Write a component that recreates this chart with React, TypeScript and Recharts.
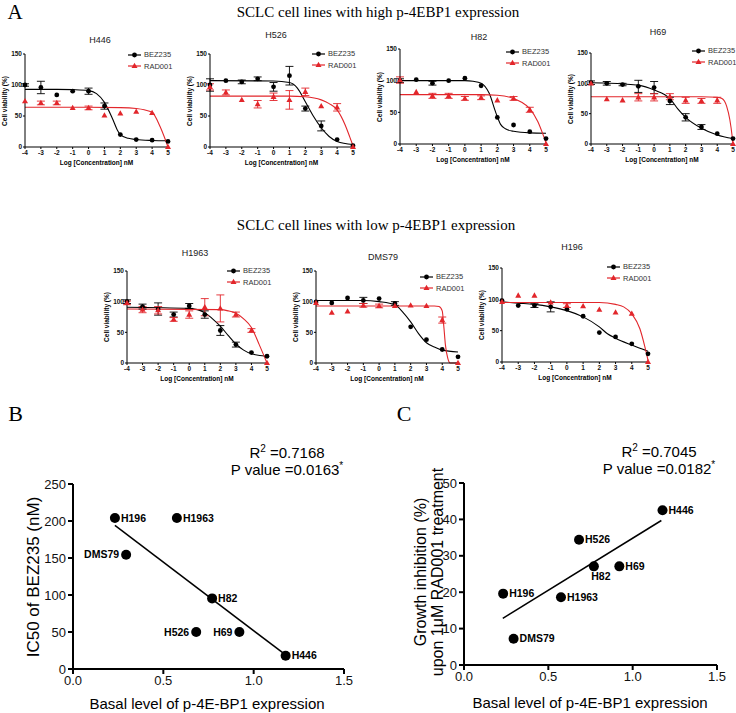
import React from "react";
import { ComposedChart, Line, Scatter, XAxis, YAxis, ErrorBar } from "recharts";

const SANS = "'Liberation Sans', Arial, Helvetica, sans-serif";
const SERIF = "'Liberation Serif', 'Times New Roman', serif";
const RED = "#e2262b";

type Pair = [number, number];

// shared x positions of the dose-response panels (log nM)
const concTicks = [-4, -3, -2, -1, 0, 1, 2, 3, 4, 5];
const viabilityTicks = [0, 50, 100, 150];

// H446
const h446Bez = [100, 96, 84, 90, 90, 66, 20, 12, 11, 9];
const h446BezErr = [2, 10, 0, 0, 5, 5, 0, 0, 0, 0];
const h446Rad = [74, 71, 71, 63, 63, 51, 54, 57, 55, 0];
const h446RadErr = [0, 3, 3, 0, 3, 0, 0, 0, 0, 0];
const h446BezFit: Pair[] = [[-4, 93], [-2, 93], [-1, 92.5], [0, 91], [0.5, 86], [1, 72], [1.5, 46], [1.8, 28], [2, 20], [2.5, 14], [3, 12], [4, 10.5], [5, 10]];
const h446RadFit: Pair[] = [[-4, 64], [0, 64], [2, 63.5], [3, 62], [3.5, 60], [4, 56], [4.5, 33], [4.8, 14], [5, 0]];

// H526
const h526Bez = [100, 107, 105, 110, 97, 115, 62, 34, 12, 2];
const h526BezErr = [10, 0, 3, 3, 7, 15, 4, 8, 0, 0];
const h526Rad = [97, 88, 76, 69, 81, 76, 89, 66, 64, 0];
const h526RadErr = [5, 4, 0, 6, 6, 15, 6, 0, 6, 0];
const h526BezFit: Pair[] = [[-4, 107], [0, 106.5], [1, 104], [1.5, 95], [2, 73], [2.5, 50], [3, 31], [3.5, 17], [4, 9], [5, 4]];
const h526RadFit: Pair[] = [[-4, 82], [1, 82], [2, 81], [3, 76], [3.5, 70], [4, 60], [4.5, 36], [4.8, 16], [5, 2]];

// H82
const h82Bez = [100, 101.5, 96, 100, 104, 92, 42, 30, 19.5, 8.5];
const h82BezErr = [3, 0, 3, 0, 0, 0, 0, 0, 0, 0];
const h82Rad = [101, 82, 76, 76, 72, 73, 69, 72, 54, 0];
const h82RadErr = [5, 0, 4, 4, 3, 3, 0, 3, 4, 0];
const h82BezFit: Pair[] = [[-4, 100], [0, 100], [0.5, 99], [1, 96], [1.5, 80], [1.9, 50], [2.2, 31], [2.5, 24], [3, 20], [4, 17.5], [5, 17]];
const h82RadFit: Pair[] = [[-4, 78], [1, 78], [2, 77], [3, 72], [3.5, 66], [4, 56], [4.5, 35], [4.8, 16], [5, 2]];

// H69
const h69Bez = [101, 100, 98, 95, 93, 71, 44, 28, 17, 9];
const h69BezErr = [3, 3, 2, 10, 10, 6, 6, 4, 0, 0];
const h69Rad = [100, 74, 72, 77, 77, 78, 72, 71, 72, 0];
const h69RadErr = [0, 0, 0, 6, 6, 5, 5, 4, 5, 0];
const h69BezFit: Pair[] = [[-4, 101], [-3, 100.5], [-2, 99], [-1, 97], [0, 89], [1, 75], [1.5, 58], [2, 44], [3, 26], [4, 15], [5, 9]];
const h69RadFit: Pair[] = [[-4, 78], [3, 78], [4, 77], [4.3, 75], [4.6, 62], [4.8, 40], [4.95, 12], [5, 0]];

// H1963
const h1963Bez = [100, 92, 88, 79, 93, 79, 53, 30, 17, 11];
const h1963BezErr = [3, 4, 10, 4, 4, 6, 8, 4, 0, 0];
const h1963Rad = [98, 87, 86, 71, 79, 91, 89, 79, 53, 0];
const h1963RadErr = [3, 5, 6, 3, 6, 14, 22, 4, 3, 0];
const h1963BezFit: Pair[] = [[-4, 91], [0, 89], [1, 82], [1.5, 72], [2, 60], [2.5, 45], [3, 31], [3.5, 21], [4, 15], [5, 11]];
const h1963RadFit: Pair[] = [[-4, 88], [2, 87], [2.5, 85], [3, 81], [3.5, 72], [4, 58], [4.5, 30], [5, 0]];

// DMS79
const dms79Bez = [99.5, 98, 106, 102, 105, 97, 59, 38, 22, 10];
const dms79BezErr = [0, 0, 0, 5, 0, 3, 0, 0, 0, 0];
const dms79Rad = [98, 82, 84, 94, 93, 93, 94, 93, 70, 0];
const dms79RadErr = [0, 0, 0, 3, 3, 0, 0, 0, 5, 0];
const dms79BezFit: Pair[] = [[-4, 102], [-1, 102], [0, 100], [1, 95], [1.5, 83], [2, 67], [2.5, 48], [3, 33], [3.5, 26], [4, 21], [5, 18]];
const dms79RadFit: Pair[] = [[-4, 93], [3.5, 93], [3.8, 92], [4, 85], [4.1, 60], [4.2, 30], [4.35, 8], [4.5, 0], [5, 0]];

// H196
const h196Bez = [98, 90, 90, 88, 84, 73, 47, 40, 29, 13];
const h196BezErr = [0, 0, 3, 8, 0, 0, 0, 0, 0, 0];
const h196Rad = [96, 106, 106, 95, 90, 89, 83.5, 79, 77, 0];
const h196RadErr = [0, 0, 0, 0, 3, 0, 0, 0, 0, 0];
const h196BezFit: Pair[] = [[-4, 96], [-3, 94], [-2, 92], [-1, 88], [0, 82], [1, 72], [2, 56], [2.5, 45], [3, 38], [4, 27], [5, 17]];
const h196RadFit: Pair[] = [[-4, 95], [2, 95], [3, 92], [3.5, 88], [4, 77], [4.5, 53], [4.8, 25], [5, 3]];

// panels B and C
const cellLines = ["H446", "H526", "H82", "H69", "H1963", "DMS79", "H196"];
const basalLevel = [1.177, 0.682, 0.77, 0.921, 0.575, 0.294, 0.232];
const ic50Bez = [18, 50, 95.4, 50, 204, 154.5, 204];
const growthInhibition = [42.5, 34.4, 27.1, 27.1, 18.6, 7.2, 19.6];
const ic50Fit: Pair[] = [[0.232, 194], [1.177, 19]];
const growthFit: Pair[] = [[0.23, 12.8], [1.17, 39.7]];
const basalTicks = [0, 0.5, 1, 1.5];
const ic50Ticks = [0, 50, 100, 150, 200, 250];
const growthTicks = [0, 10, 20, 30, 40, 50];

const toRows = (vals: number[], errs: number[]) =>
  concTicks.map((x, i) => ({ x, y: vals[i], err: errs[i] }));
const toCurve = (pts: Pair[]) => pts.map(([x, y]) => ({ x, y }));

const dotShape = (fill: string) => (props: any) => (
  <circle cx={props.cx} cy={props.cy} r={2.4} fill={fill} />
);
const triShape = (fill: string) => (props: any) => {
  const { cx, cy } = props;
  return <path d={`M${cx},${cy - 3.2}L${cx + 3},${cy + 2.1}L${cx - 3},${cy + 2.1}Z`} fill={fill} />;
};

const abs = (left: number, top: number): React.CSSProperties => ({
  position: "absolute",
  left,
  top,
  transform: "translate(-50%, -50%)",
  whiteSpace: "nowrap",
  lineHeight: 1,
});

function LegendRow({ color, tri, label }: { color: string; tri?: boolean; label: string }) {
  return (
    <div style={{ display: "flex", alignItems: "center", height: 11.5 }}>
      <svg width={14} height={8}>
        <line x1={0} y1={4} x2={13} y2={4} stroke={color} strokeWidth={1.2} />
        {tri ? (
          <path d="M6.5,0.8L9.5,6.1L3.5,6.1Z" fill={color} />
        ) : (
          <circle cx={6.5} cy={4} r={2.4} fill={color} />
        )}
      </svg>
      <span style={{ marginLeft: 2 }}>{label}</span>
    </div>
  );
}

type DoseProps = {
  name: string;
  left: number;
  top: number;
  pw: number;
  ph: number;
  titleX: number;
  titleY: number;
  legX: number;
  legY: number;
  bez: number[];
  bezErr: number[];
  rad: number[];
  radErr: number[];
  bezFit: Pair[];
  radFit: Pair[];
};

function DosePanel(p: DoseProps) {
  const yw = 20, mt = 4, mr = 5, xh = 14;
  const tick = { fontSize: 6.5, fontWeight: 700, fill: "#111", fontFamily: SANS };
  return (
    <>
      <div style={{ ...abs(p.titleX, p.titleY), fontSize: 9, fontFamily: SANS, color: "#222" }}>{p.name}</div>
      <div style={{ position: "absolute", left: p.left - yw, top: p.top - mt }}>
        <ComposedChart
          width={yw + p.pw + mr}
          height={mt + p.ph + xh}
          margin={{ top: mt, right: mr, bottom: 0, left: 0 }}
        >
          <XAxis
            type="number"
            dataKey="x"
            domain={[-4, 5]}
            ticks={concTicks}
            interval={0}
            height={xh}
            tickSize={2}
            tickMargin={1}
            tick={tick}
            stroke="#000"
          />
          <YAxis
            type="number"
            dataKey="y"
            domain={[0, 150]}
            ticks={viabilityTicks}
            interval={0}
            width={yw}
            tickSize={2}
            tickMargin={1}
            tick={tick}
            stroke="#000"
          />
          <Line data={toCurve(p.bezFit)} dataKey="y" type="monotone" stroke="#000" strokeWidth={1.1} dot={false} isAnimationActive={false} />
          <Line data={toCurve(p.radFit)} dataKey="y" type="monotone" stroke={RED} strokeWidth={1.1} dot={false} isAnimationActive={false} />
          <Scatter data={toRows(p.bez, p.bezErr)} dataKey="y" shape={dotShape("#000")} isAnimationActive={false}>
            <ErrorBar dataKey="err" direction="y" width={4} stroke="#000" strokeWidth={0.9} />
          </Scatter>
          <Scatter data={toRows(p.rad, p.radErr)} dataKey="y" shape={triShape(RED)} isAnimationActive={false}>
            <ErrorBar dataKey="err" direction="y" width={4} stroke={RED} strokeWidth={0.9} />
          </Scatter>
        </ComposedChart>
      </div>
      <div
        style={{
          ...abs(p.left - 20, p.top + p.ph / 2),
          transform: "translate(-50%, -50%) rotate(-90deg)",
          fontSize: 6.5,
          fontWeight: 700,
          fontFamily: SANS,
        }}
      >
        Cell viability (%)
      </div>
      <div style={{ ...abs(p.left + p.pw / 2, p.top + p.ph + 16), fontSize: 6.5, fontWeight: 700, fontFamily: SANS }}>
        Log [Concentration] nM
      </div>
      <div style={{ position: "absolute", left: p.legX, top: p.legY, fontSize: 7.5, fontFamily: SANS, color: "#333" }}>
        <LegendRow color="#000" label="BEZ235" />
        <LegendRow color={RED} tri label="RAD001" />
      </div>
    </>
  );
}

type CorrProps = {
  left: number;
  top: number;
  pw: number;
  ph: number;
  yw: number;
  yMax: number;
  yTicks: number[];
  values: number[];
  fit: Pair[];
  leftSide: string[];
  below: string[];
};

function CorrPanel(p: CorrProps) {
  const mt = 10, mr = 12, xh = 30;
  const points = cellLines.map((name, i) => ({ x: basalLevel[i], y: p.values[i], name }));
  const tick = { fontSize: 13, fill: "#111", fontFamily: SANS };
  const shape = (props: any) => {
    const { cx, cy, payload } = props;
    const name = payload.name;
    let tx = cx + 6;
    let ty = cy;
    let anchor: "start" | "end" | "middle" = "start";
    if (p.leftSide.includes(name)) {
      tx = cx - 7;
      anchor = "end";
    }
    if (p.below.includes(name)) {
      tx = cx + 7;
      ty = cy + 10;
      anchor = "middle";
    }
    return (
      <g>
        <circle cx={cx} cy={cy} r={5} fill="#000" />
        <text x={tx} y={ty} dy="0.35em" textAnchor={anchor} fontSize={10.5} fontWeight={700} fontFamily={SANS} fill="#000">
          {name}
        </text>
      </g>
    );
  };
  return (
    <div style={{ position: "absolute", left: p.left - p.yw, top: p.top - mt }}>
      <ComposedChart width={p.yw + p.pw + mr} height={mt + p.ph + xh} margin={{ top: mt, right: mr, bottom: 0, left: 0 }}>
        <XAxis
          type="number"
          dataKey="x"
          domain={[0, 1.5]}
          ticks={basalTicks}
          interval={0}
          height={xh}
          tickSize={5}
          tickFormatter={(v: number) => v.toFixed(1)}
          tick={tick}
          axisLine={{ stroke: "#000", strokeWidth: 2 }}
          tickLine={{ stroke: "#000", strokeWidth: 2 }}
        />
        <YAxis
          type="number"
          dataKey="y"
          domain={[0, p.yMax]}
          ticks={p.yTicks}
          interval={0}
          width={p.yw}
          tickSize={5}
          tick={tick}
          axisLine={{ stroke: "#000", strokeWidth: 2 }}
          tickLine={{ stroke: "#000", strokeWidth: 2 }}
        />
        <Line data={toCurve(p.fit)} dataKey="y" type="linear" stroke="#000" strokeWidth={1.5} dot={false} isAnimationActive={false} />
        <Scatter data={points} dataKey="y" shape={shape} isAnimationActive={false} />
      </ComposedChart>
    </div>
  );
}

function Stats({ x, y, r2, pval }: { x: number; y: number; r2: string; pval: string }) {
  return (
    <div style={{ position: "absolute", left: x, top: y, transform: "translateX(-50%)", textAlign: "center", fontSize: 15, fontFamily: SANS, lineHeight: "17px", whiteSpace: "nowrap" }}>
      <div>
        R<sup style={{ fontSize: 10, lineHeight: 0 }}>2</sup> ={r2}
      </div>
      <div>
        P value ={pval}
        <sup style={{ fontSize: 10, lineHeight: 0 }}>*</sup>
      </div>
    </div>
  );
}

export default function App() {
  return (
    <div style={{ position: "absolute", left: 0, top: 0, width: 736, height: 713, background: "#fff", overflow: "hidden", fontFamily: SANS }}>
      <div style={{ ...abs(15, 12), fontSize: 21, fontFamily: SERIF }}>A</div>
      <div style={{ ...abs(378, 12), fontSize: 15, fontFamily: SERIF }}>SCLC cell lines with high p-4EBP1 expression</div>
      <div style={{ ...abs(376, 225), fontSize: 15, fontFamily: SERIF }}>SCLC cell lines with low p-4EBP1 expression</div>

      <DosePanel name="H446" left={25} top={54} pw={143} ph={93} titleX={100} titleY={40} legX={128} legY={49}
        bez={h446Bez} bezErr={h446BezErr} rad={h446Rad} radErr={h446RadErr} bezFit={h446BezFit} radFit={h446RadFit} />
      <DosePanel name="H526" left={210} top={54} pw={143} ph={93} titleX={276} titleY={35} legX={312} legY={48}
        bez={h526Bez} bezErr={h526BezErr} rad={h526Rad} radErr={h526RadErr} bezFit={h526BezFit} radFit={h526RadFit} />
      <DosePanel name="H82" left={400} top={49} pw={146} ph={95} titleX={479} titleY={37} legX={506} legY={46}
        bez={h82Bez} bezErr={h82BezErr} rad={h82Rad} radErr={h82RadErr} bezFit={h82BezFit} radFit={h82RadFit} />
      <DosePanel name="H69" left={591} top={53} pw={142} ph={91} titleX={658} titleY={32} legX={692} legY={45}
        bez={h69Bez} bezErr={h69BezErr} rad={h69Rad} radErr={h69RadErr} bezFit={h69BezFit} radFit={h69RadFit} />

      <DosePanel name="H1963" left={127} top={271} pw={140} ph={92} titleX={195} titleY={253} legX={227} legY={265}
        bez={h1963Bez} bezErr={h1963BezErr} rad={h1963Rad} radErr={h1963RadErr} bezFit={h1963BezFit} radFit={h1963RadFit} />
      <DosePanel name="DMS79" left={316} top={271} pw={142} ph={92} titleX={383} titleY={257} legX={420} legY={271}
        bez={dms79Bez} bezErr={dms79BezErr} rad={dms79Rad} radErr={dms79RadErr} bezFit={dms79BezFit} radFit={dms79RadFit} />
      <DosePanel name="H196" left={502} top={268} pw={146} ph={94} titleX={572} titleY={247} legX={607} legY={261}
        bez={h196Bez} bezErr={h196BezErr} rad={h196Rad} radErr={h196RadErr} bezFit={h196BezFit} radFit={h196RadFit} />

      <div style={{ ...abs(15.5, 413.5), fontSize: 22, fontFamily: SERIF }}>B</div>
      <Stats x={287} y={444} r2="0.7168" pval="0.0163" />
      <CorrPanel left={73} top={484} pw={271} ph={185} yw={73} yMax={250} yTicks={ic50Ticks}
        values={ic50Bez} fit={ic50Fit} leftSide={["DMS79", "H526", "H69"]} below={[]} />
      <div style={{ ...abs(207, 703), fontSize: 15, fontFamily: SANS }}>Basal level of p-4E-BP1 expression</div>
      <div style={{ ...abs(33, 577), transform: "translate(-50%, -50%) rotate(-90deg)", fontSize: 17, fontFamily: SANS }}>
        IC50 of BEZ235 (nM)
      </div>

      <div style={{ ...abs(404, 413.5), fontSize: 22, fontFamily: SERIF }}>C</div>
      <Stats x={659} y={443} r2="0.7045" pval="0.0182" />
      <CorrPanel left={464} top={483} pw={253} ph={182} yw={40} yMax={50} yTicks={growthTicks}
        values={growthInhibition} fit={growthFit} leftSide={[]} below={["H82"]} />
      <div style={{ ...abs(590, 702), fontSize: 15, fontFamily: SANS }}>Basal level of p-4E-BP1 expression</div>
      <div
        style={{
          ...abs(428.5, 572),
          transform: "translate(-50%, -50%) rotate(-90deg)",
          fontSize: 16,
          lineHeight: "17px",
          textAlign: "center",
          fontFamily: SANS,
        }}
      >
        <div>Growth inhibition (%)</div>
        <div>upon 1μM RAD001 treatment</div>
      </div>
    </div>
  );
}
